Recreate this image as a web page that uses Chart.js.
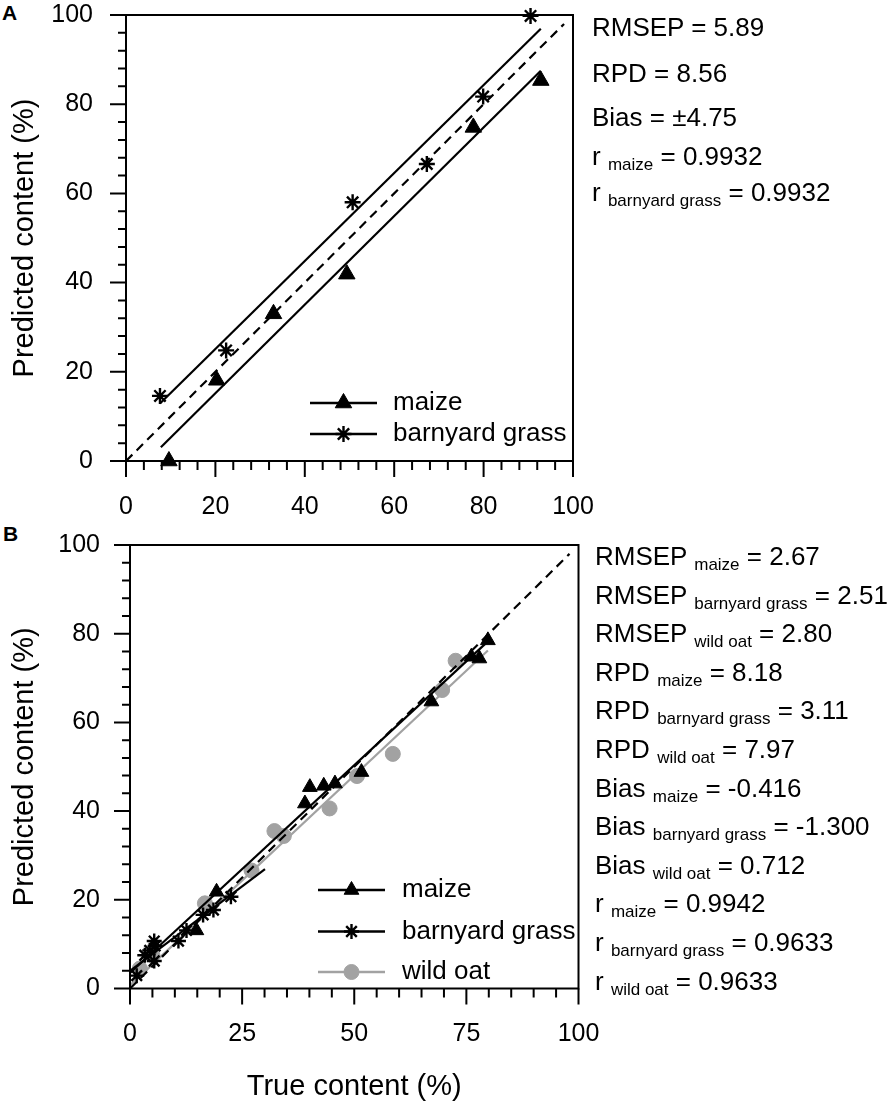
<!DOCTYPE html>
<html>
<head>
<meta charset="utf-8">
<script src="https://cdn.jsdelivr.net/npm/chart.js@4.4.1/dist/chart.umd.min.js"></script>
<style>
  body { margin: 0; background: #fff; }
  #wrap { position: relative; width: 892px; height: 1104px; font-family: Arial, "Liberation Sans", sans-serif; color: #000; }
  canvas { position: absolute; left: 0; }
  .stat { position: absolute; font-size: 26px; line-height: 1; white-space: nowrap; }
  .stat sub { font-size: 17px; vertical-align: baseline; position: relative; top: 5px; }
  .pl { position: absolute; font-weight: bold; font-size: 21px; line-height: 1; }
</style>
</head>
<body>
<div id="wrap">
  <div class="pl" style="left:2px;top:2px">A</div>
  <div class="pl" style="left:3px;top:523px">B</div>
  <canvas id="grafA" width="892" height="530" style="top:0"></canvas>
  <canvas id="grafB" width="892" height="574" style="top:530px"></canvas>
</div>
<script>
// Painel A
const aMaizeX = [9.6, 20.3, 33.0, 49.4, 77.7, 92.8]
const aMaizeY = [0, 18.1, 33.0, 41.9, 74.8, 85.3]
const aGrassX = [7.6, 22.4, 50.7, 67.3, 79.9, 90.5]
const aGrassY = [14.6, 24.8, 58.0, 66.6, 81.7, 99.8]
const aMaizeFitX = [7.8, 92.8]
const aMaizeFitY = [3.1, 87.5]
const aGrassFitX = [7.6, 92.8]
const aGrassFitY = [12.9, 96.9]
const aOneX = [0, 98]
const aOneY = [0, 98]

// Painel B
const bMaizeX = [14.8, 19.3, 39.0, 40.1, 43.2, 45.7, 51.6, 67.2, 76.1, 77.9, 79.8]
const bMaizeY = [13.1, 21.8, 41.7, 45.4, 45.7, 46.2, 48.8, 64.7, 74.8, 74.4, 78.5]
const bGrassX = [1.5, 3.3, 4.4, 5.4, 5.6, 5.4, 10.8, 12.6, 16.3, 18.6, 22.5]
const bGrassY = [2.9, 7.5, 8.6, 10.7, 9.6, 6.2, 10.7, 13.1, 16.6, 17.7, 20.7]
const bOatX = [2.2, 5.0, 16.7, 27.1, 32.2, 34.3, 44.5, 50.6, 58.6, 69.6, 72.6]
const bOatY = [4.5, 7.5, 19.2, 26.6, 35.5, 34.4, 40.6, 47.9, 52.9, 67.3, 73.9]
const bMaizeFitX = [0, 79.5]
const bMaizeFitY = [3.5, 78.0]
const bGrassFitX = [0, 30.1]
const bGrassFitY = [4.0, 26.9]
const bOatFitX = [0, 79.8]
const bOatFitY = [0.7, 76.2]
const bOneX = [0, 98]
const bOneY = [0, 98]

// textos das estatísticas: [nome, subscrito, valor]
const statsA = [
  ['RMSEP', '', '5.89'],
  ['RPD', '', '8.56'],
  ['Bias', '', '±4.75'],
  ['r', 'maize', '0.9932'],
  ['r', 'barnyard grass', '0.9932']
]
const statsB = [
  ['RMSEP', 'maize', '2.67'],
  ['RMSEP', 'barnyard grass', '2.51'],
  ['RMSEP', 'wild oat', '2.80'],
  ['RPD', 'maize', '8.18'],
  ['RPD', 'barnyard grass', '3.11'],
  ['RPD', 'wild oat', '7.97'],
  ['Bias', 'maize', '-0.416'],
  ['Bias', 'barnyard grass', '-1.300'],
  ['Bias', 'wild oat', '0.712'],
  ['r', 'maize', '0.9942'],
  ['r', 'barnyard grass', '0.9633'],
  ['r', 'wild oat', '0.9633']
]

const GREY = '#a2a2a2'
const FONT = 'Arial, "Liberation Sans", sans-serif'

Chart.defaults.color = '#000'
Chart.defaults.font.family = FONT

function pts(xs, ys) {
  return xs.map((x, i) => ({ x: x, y: ys[i] }))
}

// linhas de base (px) de cada linha de texto
const baseA = [36, 82, 126, 165, 201]
const baseB = statsB.map((s, i) => 565 + 38.6 * i)

function writeStats(list, left, bases) {
  const wrap = document.getElementById('wrap')
  list.forEach((s, i) => {
    const d = document.createElement('div')
    d.className = 'stat'
    d.style.left = left + 'px'
    d.style.top = (bases[i] - 22) + 'px'
    d.innerHTML = s[1] ? s[0] + ' <sub>' + s[1] + '</sub> = ' + s[2] : s[0] + ' = ' + s[2]
    wrap.appendChild(d)
  })
}
writeStats(statsA, 592, baseA)
writeStats(statsB, 595, baseB)

function marker(ctx, style, r, x, y, bw) {
  if (Chart.helpers && Chart.helpers.drawPoint) {
    Chart.helpers.drawPoint(ctx, { pointStyle: style, radius: r, borderWidth: bw, rotation: 0 }, x, y)
    return
  }
  ctx.beginPath()
  ctx.arc(x, y, r, 0, Math.PI * 2)
  ctx.fill()
}

// moldura, marcas de escala (maiores e menores) e legenda interna
const extras = {
  id: 'extras',
  afterDraw(chart, args, o) {
    const { ctx, chartArea: a, scales: { x, y } } = chart
    ctx.save()
    ctx.strokeStyle = '#000'
    ctx.lineWidth = 2
    ctx.setLineDash([])
    ctx.strokeRect(a.left, a.top, a.right - a.left, a.bottom - a.top)
    ctx.beginPath()
    for (let v = 0; v <= 100.001; v += o.xMinor) {
      const px = x.getPixelForValue(v)
      const len = Math.abs(v % o.xMajor) < 0.001 ? 16 : 9
      ctx.moveTo(px, a.bottom)
      ctx.lineTo(px, a.bottom + len)
    }
    for (let v = 0; v <= 100.001; v += o.yMinor) {
      const py = y.getPixelForValue(v)
      const len = Math.abs(v % o.yMajor) < 0.001 ? 16 : 8
      ctx.moveTo(a.left - len, py)
      ctx.lineTo(a.left, py)
    }
    ctx.stroke()

    // legenda
    ctx.font = '26px ' + FONT
    ctx.textBaseline = 'middle'
    ctx.textAlign = 'left'
    o.legend.forEach(it => {
      ctx.strokeStyle = it.color
      ctx.fillStyle = it.color
      ctx.lineWidth = 2.5
      ctx.beginPath()
      ctx.moveTo(o.lx0, it.y)
      ctx.lineTo(o.lx1, it.y)
      ctx.stroke()
      ctx.lineWidth = it.bw
      marker(ctx, it.style, it.r, (o.lx0 + o.lx1) / 2, it.y, it.bw)
      ctx.fillStyle = '#000'
      ctx.fillText(it.label, o.tx, it.y)
    })
    ctx.restore()
  }
}

function pointSet(data, style, r, color, bw) {
  return {
    data: data, showLine: false, pointStyle: style, pointRadius: r, pointHoverRadius: r,
    pointBackgroundColor: color, pointBorderColor: color, pointBorderWidth: bw || 1, clip: false
  }
}
function lineSet(data, color, dash) {
  return {
    data: data, showLine: true, pointRadius: 0, pointHoverRadius: 0,
    borderColor: color, borderWidth: 2.2, borderDash: dash || [], clip: false
  }
}

function makeChart(id, o) {
  return new Chart(document.getElementById(id).getContext('2d'), {
    type: 'scatter',
    data: { datasets: o.datasets },
    options: {
      responsive: false,
      animation: false,
      events: [],
      layout: { autoPadding: false, padding: { top: o.top, right: o.right, left: 0, bottom: 0 } },
      plugins: {
        legend: { display: false },
        tooltip: { enabled: false },
        extras: o.extras
      },
      scales: {
        x: {
          type: 'linear', min: 0, max: 100,
          // as marcas são desenhadas no plugin; tickLength só afasta os rótulos
          grid: { display: false, drawTicks: true, tickLength: 31 },
          border: { display: false },
          ticks: { stepSize: o.xStep, padding: 0, maxRotation: 0, autoSkip: false, font: { size: 25 }, color: '#000' },
          title: { display: !!o.xTitle, text: o.xTitle || '', font: { size: 29 }, color: '#000', padding: { top: 0, bottom: 0 } },
          afterFit: s => { s.height = o.xH }
        },
        y: {
          type: 'linear', min: 0, max: 100,
          grid: { display: false, drawTicks: true, tickLength: o.yPad },
          border: { display: false },
          ticks: { stepSize: 20, padding: 0, autoSkip: false, font: { size: 25 }, color: '#000' },
          title: { display: true, text: 'Predicted content (%)', font: { size: 29 }, color: '#000', padding: { top: 8, bottom: 0 } },
          afterFit: s => { s.width = o.yW }
        }
      }
    },
    plugins: [extras]
  })
}

const grafA = makeChart('grafA', {
  top: 13, right: 319, yW: 126, xH: 69, xStep: 20, yPad: 33,
  datasets: [
    pointSet(pts(aMaizeX, aMaizeY), 'triangle', 9.5, '#000', 1),
    pointSet(pts(aGrassX, aGrassY), 'star', 8, '#000', 2.4),
    lineSet(pts(aMaizeFitX, aMaizeFitY), '#000'),
    lineSet(pts(aGrassFitX, aGrassFitY), '#000'),
    lineSet(pts(aOneX, aOneY), '#000', [9, 6])
  ],
  extras: {
    xMinor: 4, xMajor: 20, yMinor: 4, yMajor: 20,
    lx0: 310, lx1: 377, tx: 393,
    legend: [
      { label: 'maize', style: 'triangle', r: 9.5, bw: 1, color: '#000', y: 403 },
      { label: 'barnyard grass', style: 'star', r: 8, bw: 2.4, color: '#000', y: 434 }
    ]
  }
})

const grafB = makeChart('grafB', {
  top: 10, right: 313.5, yW: 130, xH: 115.5, xStep: 25, yPad: 30, xTitle: 'True content (%)',
  datasets: [
    pointSet(pts(bMaizeX, bMaizeY), 'triangle', 8.5, '#000', 1),
    pointSet(pts(bGrassX, bGrassY), 'star', 7.5, '#000', 2.4),
    lineSet(pts(bMaizeFitX, bMaizeFitY), '#000'),
    lineSet(pts(bGrassFitX, bGrassFitY), '#000'),
    lineSet(pts(bOneX, bOneY), '#000', [9, 6]),
    lineSet(pts(bOatFitX, bOatFitY), GREY),
    pointSet(pts(bOatX, bOatY), 'circle', 7.5, GREY, 1)
  ],
  extras: {
    xMinor: 5, xMajor: 25, yMinor: 4, yMajor: 20,
    lx0: 318, lx1: 385, tx: 402,
    legend: [
      { label: 'maize', style: 'triangle', r: 8.5, bw: 1, color: '#000', y: 360 },
      { label: 'barnyard grass', style: 'star', r: 7.5, bw: 2.4, color: '#000', y: 401.5 },
      { label: 'wild oat', style: 'circle', r: 7.5, bw: 1, color: GREY, y: 442 }
    ]
  }
})
</script>
</body>
</html>
